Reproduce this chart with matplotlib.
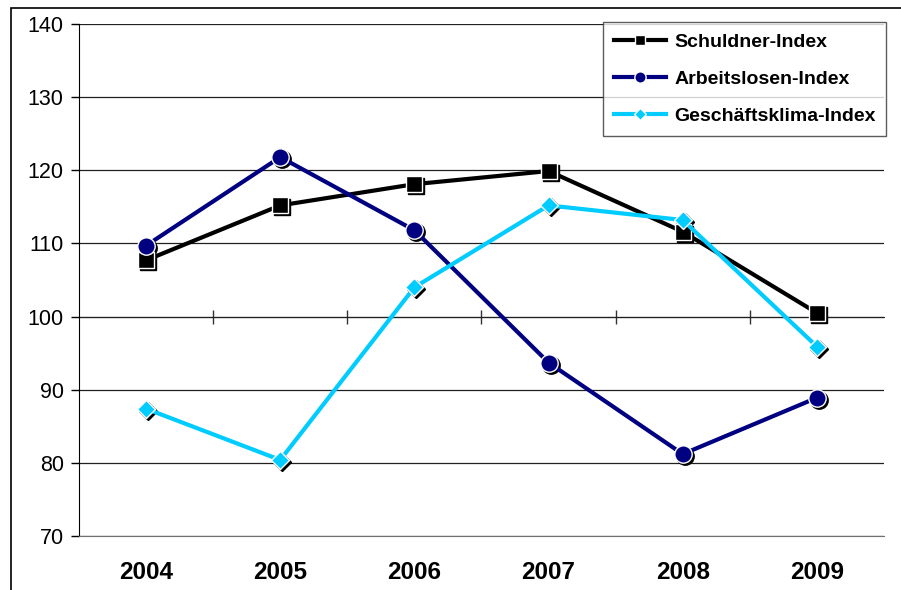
import matplotlib
matplotlib.use("Agg")
import matplotlib.pyplot as plt
import matplotlib.transforms as mtransforms
from matplotlib.patches import Rectangle

plt.rcParams['font.family'] = ['Liberation Sans', 'DejaVu Sans']

# Daten
years = ['2004', '2005', '2006', '2007', '2008', '2009']
schuldner = [107.7, 115.2, 118.1, 119.9, 111.6, 100.5]
arbeitslosen = [109.7, 121.8, 111.8, 93.7, 81.2, 88.9]
geschaeftsklima = [87.4, 80.4, 104.0, 115.2, 113.2, 95.9]

series = [
    ('Schuldner-Index', schuldner, '#000000', 's', 11.5),
    ('Arbeitslosen-Index', arbeitslosen, '#000080', 'o', 12.5),
    ('Geschäftsklima-Index', geschaeftsklima, '#00CCFF', 'D', 9.5),
]

fig = plt.figure(figsize=(9.01, 5.90), dpi=100)
ax = fig.add_axes([79 / 901, 54 / 590, 805 / 901, 512 / 590])

x = list(range(len(years)))
shadow = mtransforms.offset_copy(ax.transData, fig=fig, x=2, y=-2, units='dots')

for name, vals, col, mk, ms in series:
    ax.plot(x, vals, color=col, lw=3, zorder=3, label=name,
            marker=mk, markersize=ms, markerfacecolor=col,
            markeredgecolor='white', markeredgewidth=1.0)
    # Schatten der Marker
    ax.plot(x, vals, ls='none', marker=mk, markersize=ms, color='black',
            transform=shadow, zorder=2.5)

ax.set_xlim(-0.5, len(years) - 0.5)
ax.set_ylim(70, 140)
ax.set_yticks(range(70, 141, 10))
ax.yaxis.grid(True, color='#202020', lw=0.9)
ax.set_axisbelow(True)

ax.set_xticks(x)
ax.set_xticklabels(years, fontsize=17.5, fontweight='bold')
ax.tick_params(axis='x', length=0, pad=18)
ax.tick_params(axis='y', labelsize=15.5, length=6, width=1, pad=5)

for s in ['top', 'right']:
    ax.spines[s].set_visible(False)
ax.spines['left'].set_color('black')
ax.spines['bottom'].set_color('#707070')

# Kategorienachse bei 100
sec = ax.secondary_xaxis(30 / 70)
sec.set_xticks([i + 0.5 for i in x[:-1]])
sec.set_xticklabels([])
sec.tick_params(axis='x', direction='inout', length=10, width=1, color='#333333')
sec.spines['bottom'].set_color('#222222')
sec.spines['top'].set_color('#222222')

leg = ax.legend(loc='upper right', bbox_to_anchor=(1.003, 1.003), borderaxespad=0,
                frameon=True, fancybox=False, prop={'size': 14, 'weight': 'bold'},
                handlelength=2.7, labelspacing=1.0, markerscale=0.65,
                borderpad=0.55, handletextpad=0.4)
leg.get_frame().set_edgecolor('#333333')
leg.get_frame().set_linewidth(1)
leg.set_zorder(5)

# Rahmen des Diagrammbereichs
fig.patches.append(Rectangle((11 / 901, -0.1), 1.2, 1.1 - 8 / 590, transform=fig.transFigure,
                             fill=False, edgecolor='black', lw=1.2))

fig.savefig('out.png', dpi=100)
